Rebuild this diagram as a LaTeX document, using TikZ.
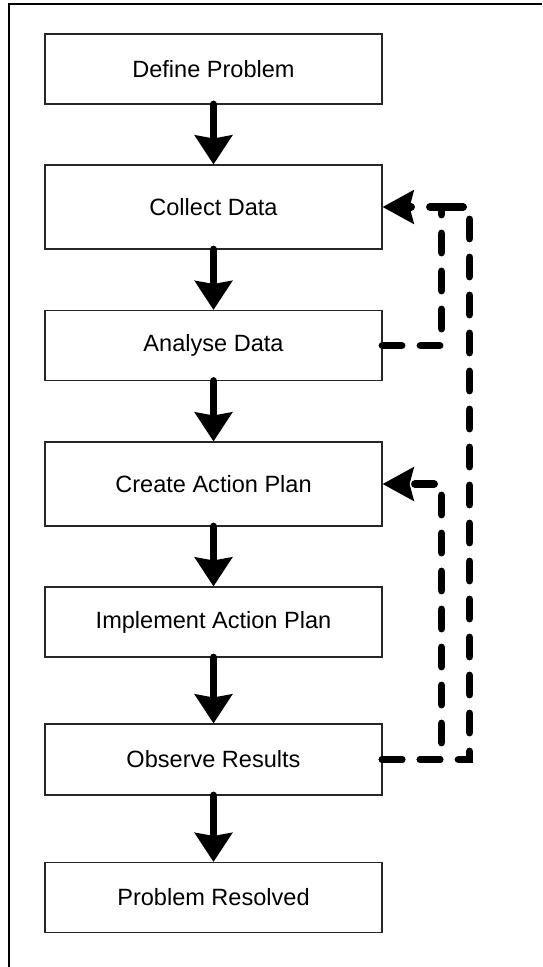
\documentclass[tikz,border=0pt]{standalone}
\usepackage{fontspec}
\setmainfont{Liberation Sans}
\usetikzlibrary{arrows.meta}

\begin{document}
\begin{tikzpicture}[
  box/.style={draw=black!85, line width=0.6pt, align=center, font=\fontsize{13.4}{16}\selectfont, minimum width=6.74cm, minimum height=1.4cm, fill=white},
  tallbox/.style={box, minimum height=1.68cm},
  arrow/.style={-{Stealth[length=0.58cm, width=0.74cm, inset=0.06cm]}, line width=4.5pt, line cap=round},
  feedback/.style={line width=4.5pt, line cap=round, dash pattern=on 0.38cm off 0.38cm},
  feedbackarrow/.style={feedback, -{Stealth[length=0.62cm, width=0.66cm, inset=0.08cm]}}
]
\useasboundingbox (0,0) rectangle (10.84,-19.34);
% page frame (only top and left edge visible)
\draw[line width=1.1pt] (0.18,-19.34) -- (0.18,-0.08) -- (10.84,-0.08);

\node[box] (define) at (4.27,-1.38) {Define Problem};
\node[tallbox] (collect) at (4.27,-4.14) {Collect Data};
\node[box] (analyse) at (4.27,-6.91) {Analyse Data};
\node[tallbox] (create) at (4.27,-9.68) {Create Action Plan};
\node[box] (implement) at (4.27,-12.44) {Implement Action Plan};
\node[box, minimum height=1.42cm] (observe) at (4.27,-15.19) {Observe Results};
\node[box] (resolved) at (4.27,-17.95) {Problem Resolved};
\coordinate (join) at (8.82,-4.14);

\draw[arrow] (define) -- (collect);
\draw[arrow] (collect) -- (analyse);
\draw[arrow] (analyse) -- (create);
\draw[arrow] (create) -- (implement);
\draw[arrow] (implement) -- (observe);
\draw[arrow] (observe) -- (resolved);

% feedback loops
\draw[feedbackarrow] (analyse.east) -- ++(1.18,0) |- (collect.east);
\draw[feedback] (observe.east) -- ++(1.74,0) |- (join);
\draw[feedbackarrow] (observe.east) -- ++(1.18,0) |- (create.east);
\end{tikzpicture}
\end{document}
